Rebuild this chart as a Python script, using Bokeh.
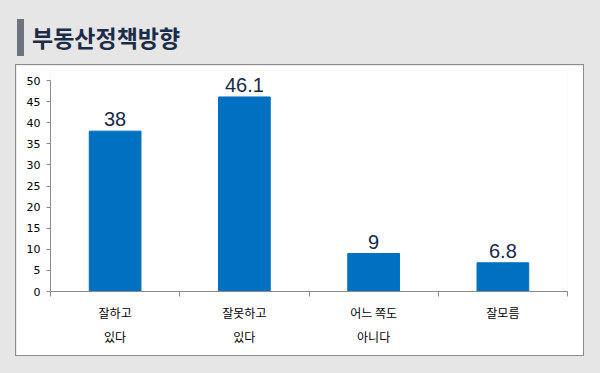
from bokeh.plotting import figure
from bokeh.models import ColumnDataSource, FixedTicker, LabelSet, Range1d, Div, Column
from bokeh.core.properties import value
from bokeh.embed import file_html
from bokeh.resources import INLINE

title = "부동산정책방향"
categories = ["잘하고\n있다", "잘못하고\n있다", "어느 쪽도\n아니다", "잘모름"]
values = [38, 46.1, 9, 6.8]
y_ticks = [0, 5, 10, 15, 20, 25, 30, 35, 40, 45, 50]

xs = [i + 0.5 for i in range(len(categories))]
src = ColumnDataSource(dict(x=xs, top=values, label=[f"{v:g}" for v in values]))

GRAY_BG = "#e6e6e6"
AXIS = "#8a8a8a"

# white panel: page x 16..583, y 65..355 ; axis area: x 50..567, y 80 (=50) .. 291 (=0)
# frame extends 10px above the 50 tick so the value labels are not clipped
y_top = y_ticks[-1] * 221 / 211
p = figure(width=567, height=290, output_backend="svg", toolbar_location=None,
           x_range=Range1d(0, len(categories)), y_range=Range1d(0, y_top),
           min_border_left=34, min_border_right=16, min_border_top=5, min_border_bottom=64,
           background_fill_color="white", border_fill_color="white", outline_line_color=None,
           margin=(9, 0, 0, 16), styles={"outline": "1px solid #8c8c8c"})
p.grid.visible = False

p.vbar(x="x", top="top", width=0.4, source=src, color="#0070c0")
p.add_layout(LabelSet(x="x", y="top", text="label", source=src, y_offset=5,
                      text_align="center", text_baseline="bottom",
                      text_font=value("Liberation Sans"), text_font_size="20px",
                      text_color="#17294a"))

xa = p.xaxis[0]
xa.ticker = FixedTicker(ticks=xs, minor_ticks=list(range(len(categories) + 1)))
xa.major_label_overrides = {x: c for x, c in zip(xs, categories)}
xa.axis_line_color = AXIS
xa.major_tick_in = 0
xa.major_tick_out = 0
xa.minor_tick_in = 0
xa.minor_tick_out = 5
xa.minor_tick_line_color = AXIS
xa.major_label_text_font = "Noto Sans CJK KR"
xa.major_label_text_font_size = "12px"
xa.major_label_text_color = "black"
xa.major_label_text_line_height = 1.42
xa.major_label_standoff = 7

ya = p.yaxis[0]
ya.ticker = FixedTicker(ticks=y_ticks, minor_ticks=[])
ya.bounds = (y_ticks[0], y_ticks[-1])
ya.axis_line_color = AXIS
ya.major_tick_line_color = AXIS
ya.major_tick_in = 0
ya.major_tick_out = 4
ya.major_label_text_font = "DejaVu Sans"
ya.major_label_text_font_size = "11px"
ya.major_label_text_color = "black"
ya.major_label_standoff = 6

head = Div(text=(
    '<div style="border-left:7px solid #6b7480;height:37px;box-sizing:border-box;'
    'padding-left:8px;display:flex;align-items:center;font-family:\'Noto Sans CJK KR\';'
    'font-weight:bold;font-size:23px;color:#1b2c48;white-space:nowrap;">' + title + '</div>'),
    width=400, height=37, margin=(19, 0, 0, 17))

layout = Column(children=[head, p], width=600, height=373, spacing=0, margin=(0, 0, 0, 0),
                styles={"background-color": GRAY_BG})

open("out.html", "w").write(file_html(layout, INLINE))
